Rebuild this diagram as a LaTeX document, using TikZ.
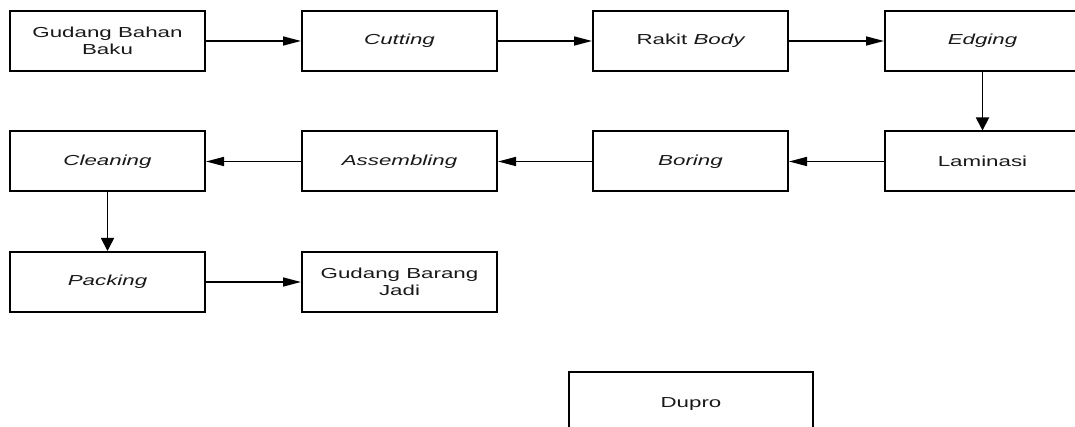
\documentclass[tikz,border=0pt]{standalone}
\usepackage{fontspec}
\setmainfont{Liberation Sans}
\usetikzlibrary{arrows.meta}
\newcommand{\sx}[1]{\scalebox{1.54}[1]{#1}}
\begin{document}
\begin{tikzpicture}[x=1pt,y=-1pt,
  box/.style={draw=black,line width=2pt,rectangle,minimum width=195pt,minimum height=60pt,inner sep=0pt,
    font=\fontsize{14.5}{16}\selectfont,align=center,text=black!90},
  harr/.style={line width=1.6pt,-{Triangle[length=18pt,width=9pt]}},
  varr/.style={line width=1.8pt,-{Triangle[length=13pt,width=13pt]}}]
\useasboundingbox (0,0) rectangle (1075,427);
\clip (0,0) rectangle (1075,427);
\node[box] (gbb) at (107.5,41) {\sx{Gudang Bahan}\\[1.5pt]\sx{Baku}};
\node[box] (cut) at (399.5,41) {\sx{\itshape Cutting}};
\node[box] (rak) at (690.5,41) {\sx{Rakit \itshape Body}};
\node[box] (edg) at (982.5,41) {\sx{\itshape Edging}};
\node[box] (lam) at (982.5,161.5) {\sx{Laminasi}};
\node[box] (bor) at (690.5,161.5) {\sx{\itshape Boring}};
\node[box] (ass) at (399.5,161.5) {\sx{\itshape Assembling}};
\node[box] (cle) at (107.5,161.5) {\sx{\itshape Cleaning}};
\node[box] (pac) at (107.5,282) {\sx{\itshape Packing}};
\node[box] (gbj) at (399.5,282) {\sx{Gudang Barang}\\[1.5pt]\sx{Jadi}};
\node[box,minimum width=244pt,minimum height=64pt] (dup) at (691,404) {\sx{Dupro}};
\draw[harr] (gbb) -- (cut);
\draw[harr] (cut) -- (rak);
\draw[harr] (rak) -- (edg);
\draw[varr] (edg) -- (lam);
\draw[harr] (lam) -- (bor);
\draw[harr] (bor) -- (ass);
\draw[harr] (ass) -- (cle);
\draw[varr] (cle) -- (pac);
\draw[harr] (pac) -- (gbj);
\end{tikzpicture}
\end{document}
